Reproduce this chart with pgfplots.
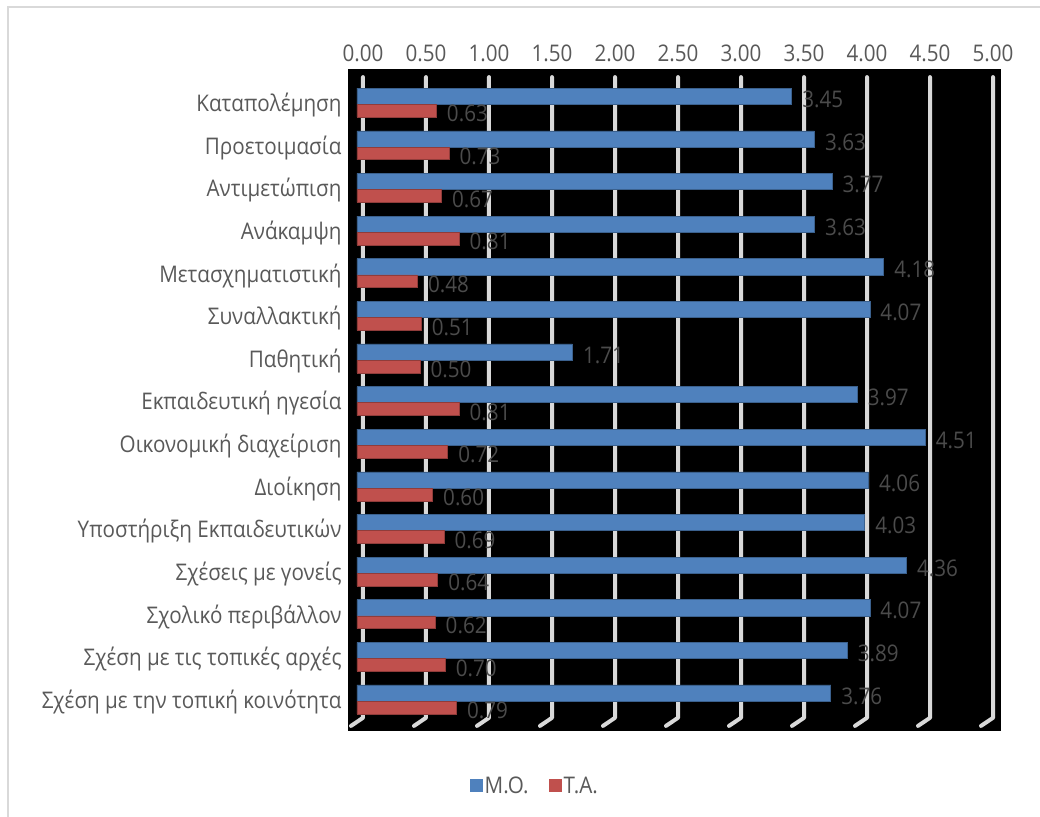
\documentclass[border=0pt]{standalone}
\usepackage{fontspec}
\setmainfont{Open Sans}[FakeStretch=0.9]
\usepackage{pgfplots}
\pgfplotsset{compat=1.18}
\definecolor{moblue}{RGB}{79,129,189}
\definecolor{tared}{RGB}{192,80,77}
\definecolor{txt}{RGB}{89,89,89}
\definecolor{lbl}{RGB}{75,75,75}
\definecolor{grd}{RGB}{217,217,217}
\newcommand\fs{\fontsize{23}{27}\selectfont}
\begin{document}
\begin{tikzpicture}
\useasboundingbox (-348bp,-86bp) rectangle (692bp,731bp);
\draw[grd, line width=1.5bp] (-340bp,-90bp) -- (-340bp,724bp) -- (700bp,724bp);
\begin{axis}[
  at={(0bp,0bp)}, anchor=south west,
  scale only axis, width=653bp, height=662bp,
  xbar,
  xmin=-0.0714, xmax=5.111,
  ymin=-0.80, ymax=14.73, y dir=reverse,
  axis background/.style={fill=black},
  axis line style={draw=none},
  xticklabel pos=top,
  xtick={0,0.5,...,5},
  xticklabel style={xshift=6bp, yshift=4bp, /pgf/number format/.cd, fixed, fixed zerofill, precision=2, assume math mode=true},
  yticklabel style={xshift=-3bp, yshift=-2bp},
  major tick length=0pt,
  tick style={draw=none},
  ytick={0,...,14},
  yticklabels={Καταπολέμηση,Προετοιμασία,Αντιμετώπιση,Ανάκαμψη,Μετασχηματιστική,Συναλλακτική,Παθητική,Εκπαιδευτική ηγεσία,Οικονομική διαχείριση,Διοίκηση,Υποστήριξη Εκπαιδευτικών,Σχέσεις με γονείς,Σχολικό περιβάλλον,Σχέση με τις τοπικές αρχές,Σχέση με την τοπική κοινότητα},
  tick label style={font=\fs, text=txt},
  nodes near coords={\pgfmathprintnumber[fixed,fixed zerofill,precision=2,assume math mode=true]{\pgfplotspointmeta}},
  nodes near coords style={font=\fs, text=lbl, anchor=west, xshift=7bp, yshift=-3bp},
  legend style={at={(0.286,-0.083)}, anchor=center, draw=none, fill=none, font=\fs, text=txt,
    legend columns=2, /tikz/every even column/.append style={column sep=18bp}},
  legend image code/.code={\fill[#1,draw=none] (0bp,-6.5bp) rectangle (13bp,6.5bp);},
]
\pgfplotsinvokeforeach{0,0.5,...,5}{
  \draw[grd, line width=4bp, line cap=round, line join=round]
    ([xshift=6bp]axis cs:#1,-0.61) -- ([xshift=6bp]axis cs:#1,14.42) -- ([xshift=-6bp]axis cs:#1,14.61);
}
\addplot[fill=moblue, draw=moblue!75!black, line width=0.6bp, bar width=0.38, bar shift=-0.16] coordinates {
(3.45,0) (3.63,1) (3.77,2) (3.63,3) (4.18,4) (4.07,5) (1.71,6) (3.97,7) (4.51,8) (4.06,9) (4.03,10) (4.36,11) (4.07,12) (3.89,13) (3.76,14)};
\addlegendentry{Μ.Ο.}
\addplot[fill=tared, draw=tared!75!black, line width=0.6bp, bar width=0.30, bar shift=0.18] coordinates {
(0.63,0) (0.73,1) (0.67,2) (0.81,3) (0.48,4) (0.51,5) (0.50,6) (0.81,7) (0.72,8) (0.60,9) (0.69,10) (0.64,11) (0.62,12) (0.70,13) (0.79,14)};
\addlegendentry{Τ.Α.}
\end{axis}
\end{tikzpicture}
\end{document}
